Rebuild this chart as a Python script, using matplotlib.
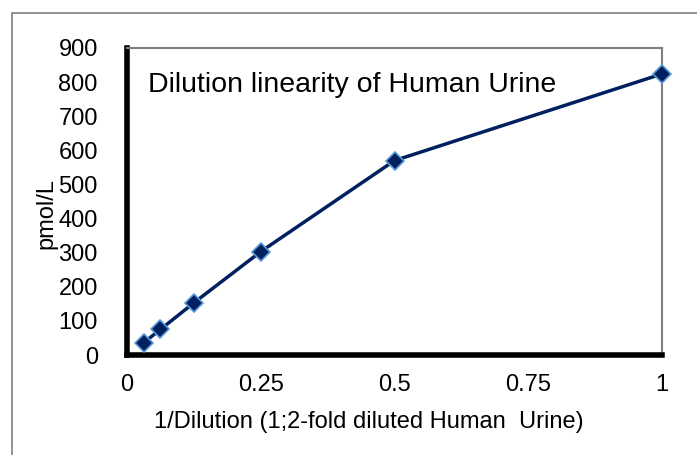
import matplotlib.pyplot as plt
from matplotlib.patches import Rectangle

plt.rcParams['font.family'] = ['Liberation Sans', 'DejaVu Sans']

# data
dilution = [0.03125, 0.0625, 0.125, 0.25, 0.5, 1.0]
pmol = [36, 75, 153, 303, 570, 824]
x_ticks = [0, 0.25, 0.5, 0.75, 1]
x_tick_labels = ['0', '0.25', '0.5', '0.75', '1']
y_ticks = [0, 100, 200, 300, 400, 500, 600, 700, 800, 900]

fig = plt.figure(figsize=(6.97, 4.55), dpi=100)
fig.patches.append(Rectangle((12 / 697, -0.1), 1.2, 1 - 13 / 455 + 0.1,
                             transform=fig.transFigure, fill=False,
                             edgecolor='#7f7f7f', linewidth=1.2))

ax = fig.add_axes([127 / 697, 1 - 355 / 455, (662 - 127) / 697, (355 - 48) / 455])
ax.plot(dilution, pmol, color='#002060', linewidth=2.5, marker='D',
        markersize=9.5, markerfacecolor='#002060', markeredgecolor='#5b9bd5',
        markeredgewidth=1.2, clip_on=False, zorder=3)

ax.set_xlim(0, 1)
ax.set_ylim(0, 900)
ax.set_xticks(x_ticks)
ax.set_xticklabels(x_tick_labels)
ax.set_yticks(y_ticks)
ax.tick_params(length=0, labelsize=17, pad=0)
ax.tick_params(axis='y', pad=21)
ax.tick_params(axis='x', pad=14)

for side in ['top', 'right']:
    ax.spines[side].set_color('#7f7f7f')
    ax.spines[side].set_linewidth(1.5)
for side in ['left', 'bottom']:
    ax.spines[side].set_color('black')
    ax.spines[side].set_linewidth(4)

ax.text(0.04, 0.88, 'Dilution linearity of Human Urine', transform=ax.transAxes,
        fontsize=20.5, va='center', ha='left')
ax.set_xlabel('1/Dilution (1;2-fold diluted Human  Urine)', fontsize=17)
ax.xaxis.set_label_coords(0.452, -0.183)
ax.set_ylabel('pmol/L', fontsize=17)
ax.yaxis.set_label_coords(-0.13, 0.46)

plt.savefig('out.png', dpi=100)
